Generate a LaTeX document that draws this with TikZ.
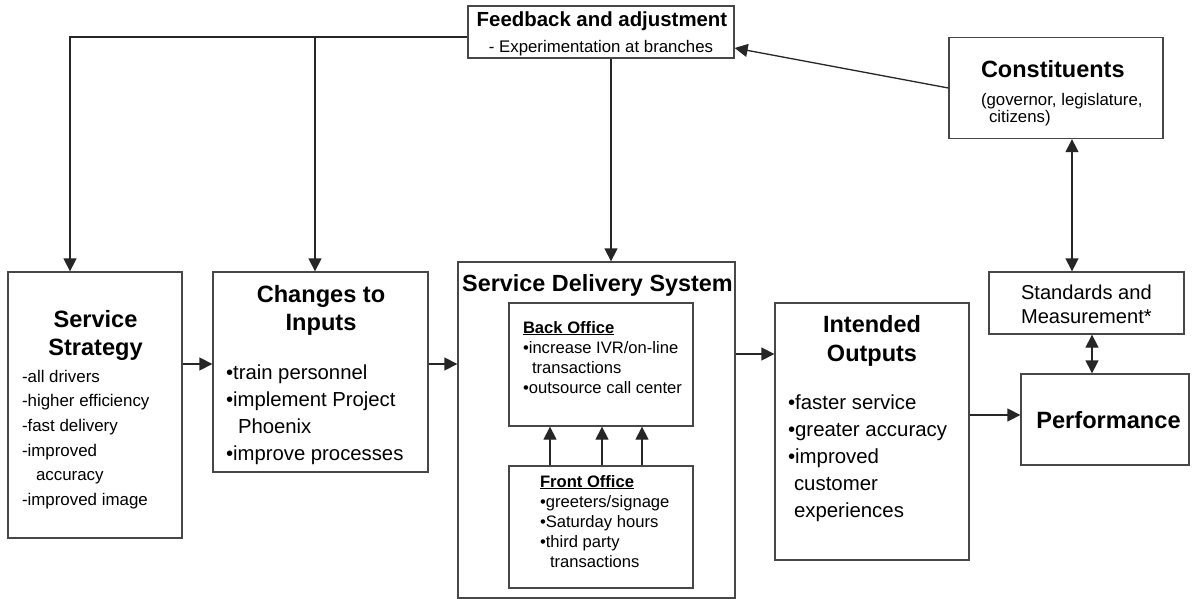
\documentclass[tikz,border=0pt]{standalone}
\usepackage{fontspec}
\setmainfont{Liberation Sans}
\usetikzlibrary{arrows.meta}
\newcommand\fr{\rule{0pt}{20pt}}
\begin{document}
\begin{tikzpicture}[x=1pt,y=-1pt,
  bx/.style={draw=black!72, line width=1.3pt, inner sep=0pt},
  tx/.style={inner sep=0pt, outer sep=0pt, text=black},
  arr/.style={draw=black!85, line width=1.3pt, -{Triangle[length=13pt,width=13pt]}},
  darr/.style={draw=black!85, line width=1.3pt, {Triangle[length=13pt,width=13pt]}-{Triangle[length=13pt,width=13pt]}}]
\useasboundingbox (0,0) rectangle (1193,599);
\fill[white] (0,0) rectangle (1193,599);

% boxes
\node[bx, minimum width=266pt, minimum height=52pt] (fb) at (601,32) {};
\node[bx, minimum width=214pt, minimum height=101pt] (const) at (1056,88) {};
\node[bx, minimum width=174pt, minimum height=266pt] (strat) at (95,405) {};
\node[bx, minimum width=215pt, minimum height=200pt] (inp) at (320.5,372) {};
\node[bx, minimum width=277pt, minimum height=336pt] (sds) at (596.5,430) {};
\node[bx, minimum width=184pt, minimum height=123pt] (back) at (601,364.5) {};
\node[bx, minimum width=184pt, minimum height=122pt] (front) at (601,527) {};
\node[bx, minimum width=194pt, minimum height=257pt] (out) at (872,431.5) {};
\node[bx, minimum width=195pt, minimum height=62pt] (std) at (1086.5,303) {};
\node[bx, minimum width=168pt, minimum height=91pt] (perf) at (1105,419.5) {};

% texts
\node[tx, anchor=base, font=\fontsize{20.4pt}{24pt}\selectfont\bfseries] (fbt) at (602,27) {Feedback and adjustment};
\node[tx, anchor=base, font=\fontsize{16.8pt}{20pt}\selectfont] (fbs) at (601,52.7) {- Experimentation at branches};

\node[tx, anchor=base west, font=\fontsize{23.5pt}{28pt}\selectfont\bfseries] (constt) at (981,78) {Constituents};
\node[tx, anchor=north west, align=left, font=\fontsize{16.8pt}{17pt}\selectfont] (consts) at (981,85) {\fr(governor, legislature,\\\hspace*{8pt}citizens)};

\node[tx, anchor=north, align=center, font=\fontsize{23.6pt}{28pt}\selectfont\bfseries] (stratt) at (95.5,307) {\fr Service\\Strategy};
\node[tx, anchor=north west, align=left, font=\fontsize{16.9pt}{24.7pt}\selectfont] (strati) at (22,362) {\fr-all drivers\\-higher efficiency\\-fast delivery\\-improved\\\hspace*{14pt}accuracy\\-improved image};

\node[tx, anchor=north, align=center, font=\fontsize{23.6pt}{28pt}\selectfont\bfseries] (inpt) at (321,282) {\fr Changes to\\Inputs};
\node[tx, anchor=north west, align=left, font=\fontsize{20.3pt}{27pt}\selectfont] (inpi) at (226,359) {\fr•train personnel\\•implement Project\\\hspace*{12pt}Phoenix\\•improve processes};

\node[tx, anchor=base, font=\fontsize{23.4pt}{28pt}\selectfont\bfseries] (sdst) at (597.5,291) {Service Delivery System};
\node[tx, anchor=north west, align=left, font=\fontsize{16.6pt}{20.3pt}\selectfont] (backt) at (523,313) {\fr\underline{\textbf{Back Office}}\\•increase IVR/on-line\\\hspace*{9pt}transactions\\•outsource call center};
\node[tx, anchor=north west, align=left, font=\fontsize{16.6pt}{20pt}\selectfont] (frontt) at (540,467) {\fr\underline{\textbf{Front Office}}\\•greeters/signage\\•Saturday hours\\•third party\\\hspace*{10pt}transactions};

\node[tx, anchor=north, align=center, font=\fontsize{23.5pt}{29pt}\selectfont\bfseries] (outt) at (872,312) {\fr Intended\\Outputs};
\node[tx, anchor=north west, align=left, font=\fontsize{20.4pt}{27pt}\selectfont] (outi) at (788,389) {\fr•faster service\\•greater accuracy\\•improved\\\hspace*{6pt}customer\\\hspace*{6pt}experiences};

\node[tx, anchor=north west, align=left, font=\fontsize{20.1pt}{24pt}\selectfont] (stdt) at (1021,279) {\fr Standards and\\Measurement*};
\node[tx, anchor=base, font=\fontsize{23.6pt}{28pt}\selectfont\bfseries] (perft) at (1108.5,428) {Performance};

% connectors
\coordinate (fbL) at ([yshift=-5pt]fb.west);
\coordinate (stTop) at ([xshift=-25pt]strat.north);
\coordinate (inTop) at ([xshift=-5.5pt]inp.north);
\coordinate (fbB) at ([xshift=10pt]fb.south);
\draw[arr] (fbL) -| (stTop);
\draw[arr] (fbL -| inTop) -- (inTop);
\draw[arr] (fbB) -- (fbB |- sds.north);
\draw[arr] (const.west) -- ([yshift=-16pt]fb.east);
\draw[darr] ([xshift=16pt]const.south) -- ([xshift=-14.5pt]std.north);
\draw[darr] ([xshift=5.5pt]std.south) -- ([xshift=-13pt]perf.north);
\draw[arr] ([yshift=41pt]strat.east) -- ([yshift=8pt]inp.west);
\draw[arr] ([yshift=8pt]inp.east) -- ([yshift=66pt]sds.west);
\draw[arr] ([yshift=76pt]sds.east) -- ([yshift=77.5pt]out.west);
\draw[arr] ([yshift=16.5pt]out.east) -- ([yshift=4.5pt]perf.west);
\draw[arr] ([xshift=-51pt]front.north) -- ([xshift=-51pt]back.south);
\draw[arr] ([xshift=1pt]front.north) -- ([xshift=1pt]back.south);
\draw[arr] ([xshift=41pt]front.north) -- ([xshift=41pt]back.south);
\end{tikzpicture}
\end{document}
